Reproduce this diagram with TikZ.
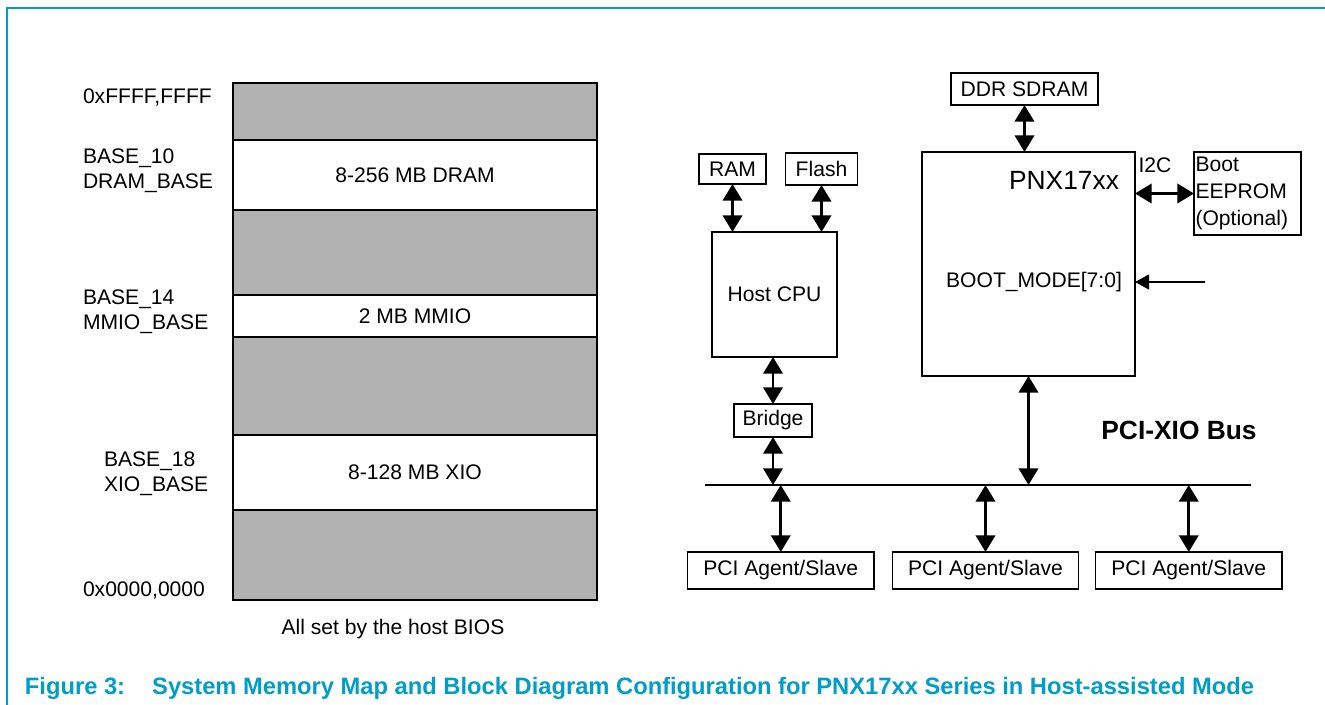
\documentclass[tikz,border=0pt]{standalone}
\usepackage{fontspec}
\setmainfont{Liberation Sans}
\usepackage{tikz}
\usetikzlibrary{arrows.meta}
\definecolor{capblue}{RGB}{0,158,196}

\begin{document}
\begin{tikzpicture}[
  x=0.02cm, y=-0.02cm,
  every node/.style={font=\fontsize{12}{14.2}\selectfont, inner sep=0pt, outer sep=0pt},
  band/.style={draw, line width=1.1pt, minimum width=7.28cm},
  used/.style={band, fill=white},
  free/.style={band, fill=black!30},
  blk/.style={draw, line width=0.85pt},
  bus/.style={line width=1.6pt, <->},
  lbl/.style={anchor=west, align=left},
  >={Triangle[width=11pt,length=9.5pt]}
]
  \useasboundingbox (0,0) rectangle (1325,705);
  \draw[capblue, line width=1pt] (1325,8) -- (7,8) -- (7,705);

  \node[free, minimum height=1.14cm] (g1)   at (415,111.5) {};
  \node[used, minimum height=1.4cm]  (dram) at (415,175)   {8-256 MB DRAM};
  \node[free, minimum height=1.7cm]  (g2)   at (415,252.5) {};
  \node[used, minimum height=0.84cm] (mmio) at (415,316)   {2 MB MMIO};
  \node[free, minimum height=1.96cm] (g3)   at (415,386)   {};
  \node[used, minimum height=1.5cm]  (xio)  at (415,472.5) {8-128 MB XIO};
  \node[free, minimum height=1.8cm]  (g4)   at (415,555)   {};

  \node[lbl] (top) at (83,97)    {0xFFFF,FFFF};
  \node[lbl] (b10) at (83,170.5) {BASE\_10\\DRAM\_BASE};
  \node[lbl] (b14) at (83,311.5) {BASE\_14\\MMIO\_BASE};
  \node[lbl] (b18) at (104,473.5) {BASE\_18\\XIO\_BASE};
  \node[lbl] (bot) at (83,590)   {0x0000,0000};
  \node (bios) at (393,629) {All set by the host BIOS};

  \node[blk, minimum width=2.94cm, minimum height=0.64cm] (ddr) at (1024.5,89) {DDR SDRAM};
  \node[blk, minimum width=4.26cm, minimum height=4.48cm] (pnx) at (1028.5,264) {};
  \node[font=\fontsize{15}{18}\selectfont] (pnxname) at (1064,180) {PNX17xx};
  \node (bootmode) at (1034,282) {BOOT\_MODE[7:0]};
  \node (i2c) at (1155,165) {I2C};
  \node[blk, align=left, text width=2.08cm, font=\fontsize{12}{15.2}\selectfont,
        minimum width=2.14cm, minimum height=1.66cm] (eeprom) at (1247.5,193.5) {Boot\\EEPROM\\(Optional)};
  \node[blk, minimum width=1.34cm, minimum height=0.6cm]  (ram)   at (732.5,169) {RAM};
  \node[blk, minimum width=1.44cm, minimum height=0.64cm] (flash) at (821.5,169) {Flash};
  \node[blk, minimum size=2.5cm] (cpu) at (774.5,294.5) {Host CPU};
  \node[blk, minimum width=1.56cm, minimum height=0.66cm] (bridge) at (773,420.5) {Bridge};
  \node[font=\bfseries\fontsize{15}{18}\selectfont] (busname) at (1179,430) {PCI-XIO Bus};
  \foreach \i/\x in {1/780.75, 2/985.5, 3/1188.75}
    \node[blk, minimum width=3.73cm, minimum height=0.74cm] (agent\i) at (\x,570.5) {PCI Agent/Slave};

  \coordinate (busl) at (705,485);
  \coordinate (busr) at (1251,485);
  \coordinate (bmin) at (1205,282);

  \draw[line width=1.4pt] (busl) -- (busr);
  \draw[bus] (ddr.south) -- (ddr.south |- pnx.north);
  \draw[bus] (ram.south) -- (ram.south |- cpu.north);
  \draw[bus] (flash.south) -- (flash.south |- cpu.north);
  \draw[bus] (bridge.north |- cpu.south) -- (bridge.north);
  \draw[bus] (bridge.south) -- (bridge.south |- busl);
  \draw[bus] (pnx.south) -- (pnx.south |- busl);
  \draw[bus] (pnx.east |- eeprom.west) -- (eeprom.west);
  \foreach \i in {1,2,3}
    \draw[bus] (agent\i.north |- busl) -- (agent\i.north);
  \draw[line width=0.8pt, -{Triangle[width=8.5pt,length=8pt]}] (bmin) -- (pnx.east |- bmin);

  \node[anchor=west, text=capblue, font=\bfseries\fontsize{13.5}{16}\selectfont] (caption) at (25,688)
    {Figure 3:\hspace{15.4pt}System Memory Map and Block Diagram Configuration for PNX17xx Series in Host-assisted Mode};
\end{tikzpicture}
\end{document}
